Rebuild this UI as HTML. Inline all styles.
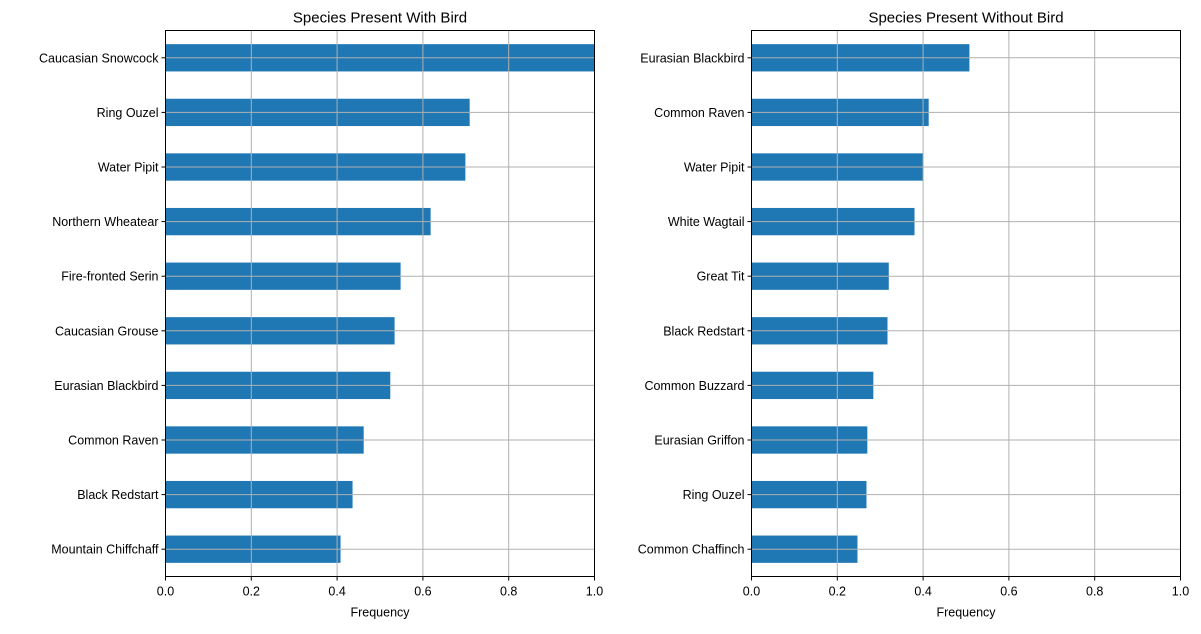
<!DOCTYPE html>
<html><head><meta charset="utf-8"><style>
body{margin:0;background:#fff;font-family:"Liberation Sans","DejaVu Sans",sans-serif;}
</style></head><body>
<svg id="chart" width="1201" height="629" xmlns="http://www.w3.org/2000/svg"></svg>
<script>
const leftCats=["Caucasian Snowcock","Ring Ouzel","Water Pipit","Northern Wheatear","Fire-fronted Serin","Caucasian Grouse","Eurasian Blackbird","Common Raven","Black Redstart","Mountain Chiffchaff"];
const leftVals=[1.0,0.709,0.699,0.618,0.548,0.534,0.524,0.462,0.436,0.408];
const rightCats=["Eurasian Blackbird","Common Raven","Water Pipit","White Wagtail","Great Tit","Black Redstart","Common Buzzard","Eurasian Griffon","Ring Ouzel","Common Chaffinch"];
const rightVals=[0.508,0.413,0.40,0.38,0.32,0.317,0.284,0.27,0.268,0.247];
const xTicks=[0,0.2,0.4,0.6,0.8,1.0];
const xTickLabels=["0.0","0.2","0.4","0.6","0.8","1.0"];
const svg=document.getElementById('chart');
const NS="http://www.w3.org/2000/svg";
function mk(tag,attrs,parent){const e=document.createElementNS(NS,tag);for(const k in attrs)e.setAttribute(k,attrs[k]);(parent||svg).appendChild(e);return e;}
function panel(x0,x1,top,bot,cats,vals,title,prefix){
  const g=mk('g',{});
  
  
  const xs=v=>x0+(x1-x0)*v;
  const unit=(bot-top)/10;
  const ys=i=>top+unit*(i+0.5);
  cats.forEach((c,i)=>{
    const r=mk('rect',{x:xs(0),y:ys(i)-unit*0.25,width:xs(vals[i])-xs(0),height:unit*0.5,fill:'#1f77b4'},g);
    
    
    mk('line',{x1:x0,x2:x1,y1:ys(i),y2:ys(i),stroke:'#b0b0b0','stroke-width':1},g);
    mk('line',{x1:x0-4,x2:x0,y1:ys(i),y2:ys(i),stroke:'#000'},g);
    const t=mk('text',{x:x0-7,y:ys(i)+4.5,'text-anchor':'end','font-size':12.5},g);
    t.textContent=c;
    
    
  });
  xTicks.forEach((v,i)=>{
    mk('line',{x1:xs(v),x2:xs(v),y1:top,y2:bot,stroke:'#b0b0b0','stroke-width':1},g);
    mk('line',{x1:xs(v),x2:xs(v),y1:bot,y2:bot+4,stroke:'#000'},g);
    const t=mk('text',{x:xs(v),y:bot+19,'text-anchor':'middle','font-size':12.5},g);
    t.textContent=xTickLabels[i];
    
    
  });
  mk('rect',{x:x0,y:top,width:x1-x0,height:bot-top,fill:'none',stroke:'#000','stroke-width':1},g);
  const tt=mk('text',{x:(x0+x1)/2,y:top-8,'text-anchor':'middle','font-size':15},g);
  tt.textContent=title;
  
  
  const xl=mk('text',{x:(x0+x1)/2,y:bot+40,'text-anchor':'middle','font-size':12.5},g);
  xl.textContent='Frequency';
  
  
}
panel(165.5,594.5,30.5,576.5,leftCats,leftVals,'Species Present With Bird','left');
panel(751.5,1180.5,30.5,576.5,rightCats,rightVals,'Species Present Without Bird','right');
</script>
</body></html>
